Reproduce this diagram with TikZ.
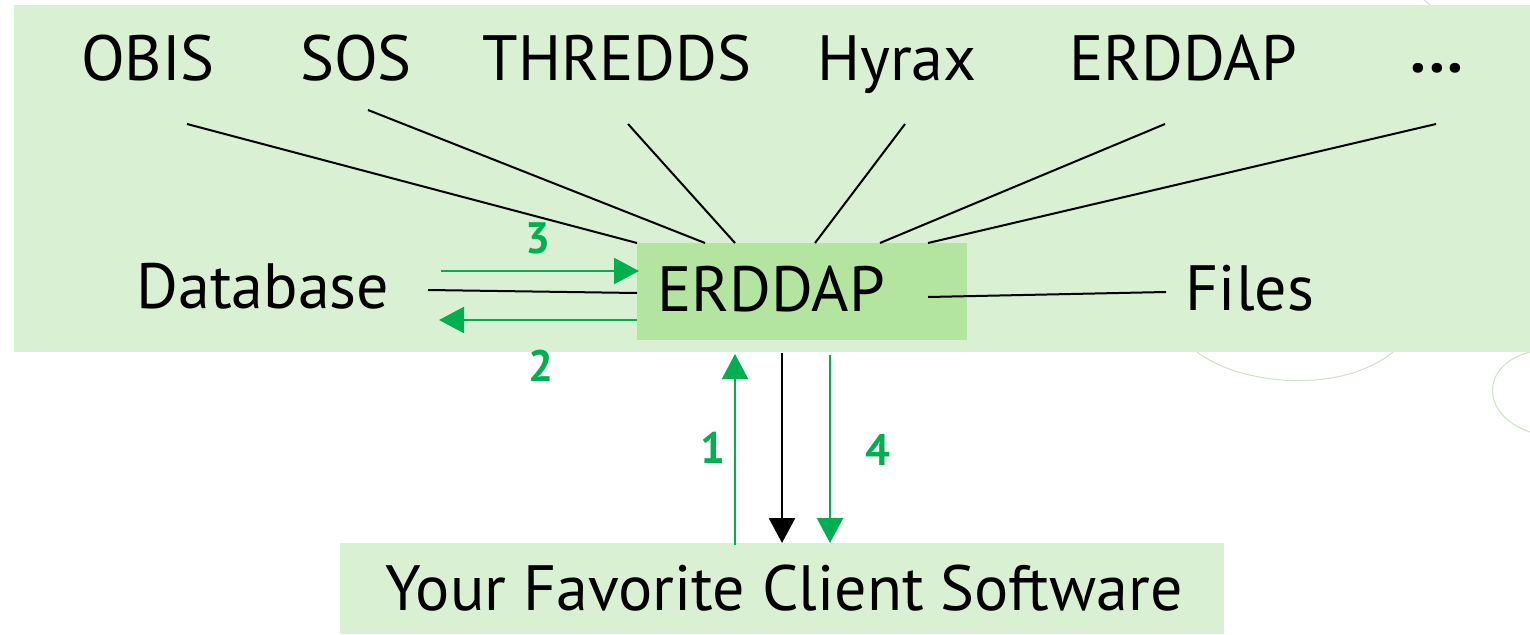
\documentclass[tikz,border=0pt]{standalone}
\usepackage{fontspec}
\setmainfont{PT Sans}
\usetikzlibrary{arrows.meta,calc}
\definecolor{bgGreen}{RGB}{217,240,211}
\definecolor{boxGreen}{RGB}{179,228,160}
\definecolor{arrGreen}{RGB}{0,176,80}
\definecolor{arcGray}{RGB}{205,225,200}
\tikzset{
  lbl/.style={anchor=base, inner sep=0pt, font=\fontsize{64}{70}\selectfont},
  num/.style={anchor=base, inner sep=0pt, text=arrGreen, font=\fontsize{44}{48}\selectfont\bfseries},
  link/.style={draw=black, line width=2pt},
  garrow/.style={draw=arrGreen, line width=2.2pt, -{Triangle[length=25pt,width=26pt]}},
  barrow/.style={draw=black, line width=2.6pt, -{Triangle[length=25pt,width=26pt]}},
  faint/.style={draw=arcGray, line width=1pt},
}
\begin{document}
\begin{tikzpicture}[x=1pt,y=-1pt]
\useasboundingbox (0,0) rectangle (1530,634);
% faint background arcs
\draw[faint] (1197,352) .. controls (1240,385) and (1340,395) .. (1393,352);
\draw[faint] (1530,352) .. controls (1480,365) and (1480,415) .. (1530,432);
\draw[faint] (1424,0) -- (1430,5);
% panels
\fill[bgGreen] (14,5) rectangle (1530,352);
\fill[bgGreen] (340,543) rectangle (1224,634);
\node[fill=boxGreen, minimum width=330pt, minimum height=97pt, inner sep=0pt] (box) at (802,291.5) {};
\node[lbl] (erddap) at (771,311) {ERDDAP};
% top labels
\node[lbl] (obis) at (148,80) {OBIS};
\node[lbl] (sos) at (356,80) {SOS};
\node[lbl] (thredds) at (617,80) {THREDDS};
\node[lbl] (hyrax) at (897,80) {Hyrax};
\node[lbl] (erddap2) at (1183,80) {ERDDAP};
\node[lbl, font=\fontsize{64}{70}\selectfont\bfseries] (more) at (1437,72) {.\kern3pt.\kern3pt.};
\node[lbl] (db) at (263,308) {Database};
\node[lbl] (files) at (1250,310) {Files};
\node[lbl] (client) at (784,610) {Your Favorite Client Software};
% connector end points
\coordinate (o1) at (187,124); \coordinate (o2) at (637,243);
\coordinate (s1) at (368,110); \coordinate (s2) at (705,243);
\coordinate (t1) at (628,124); \coordinate (t2) at (735,243);
\coordinate (h1) at (905,124); \coordinate (h2) at (815,243);
\coordinate (e1) at (1165,124); \coordinate (e2) at (880,243);
\coordinate (m1) at (1436,124); \coordinate (m2) at (928,243);
\draw[link] (o1) -- (o2);
\draw[link] (s1) -- (s2);
\draw[link] (t1) -- (t2);
\draw[link] (h1) -- (h2);
\draw[link] (e1) -- (e2);
\draw[link] (m1) -- (m2);
% database links
\coordinate (d1) at (428,290); \coordinate (d2) at (637,293);
\draw[link] (d1) -- (d2);
\coordinate (a3s) at (441,271); \coordinate (a3e) at (639,271);
\draw[garrow] (a3s) -- (a3e);
\coordinate (a2s) at (637,320); \coordinate (a2e) at (439,320);
\draw[garrow] (a2s) -- (a2e);
\node[num] (n3) at (538,253) {3};
\node[num] (n2) at (541,381) {2};
% files link
\coordinate (f1) at (928,297); \coordinate (f2) at (1166,292);
\draw[link] (f1) -- (f2);
% vertical arrows
\coordinate (v1s) at (735,545); \coordinate (v1e) at (735,354);
\draw[garrow] (v1s) -- (v1e);
\coordinate (vbs) at (782,353); \coordinate (vbe) at (782,543);
\draw[barrow] (vbs) -- (vbe);
\coordinate (v4s) at (830,355); \coordinate (v4e) at (830,543);
\draw[garrow] (v4s) -- (v4e);
\node[num] (n1) at (713,463) {1};
\node[num] (n4) at (878,465) {4};
\end{tikzpicture}
\end{document}
